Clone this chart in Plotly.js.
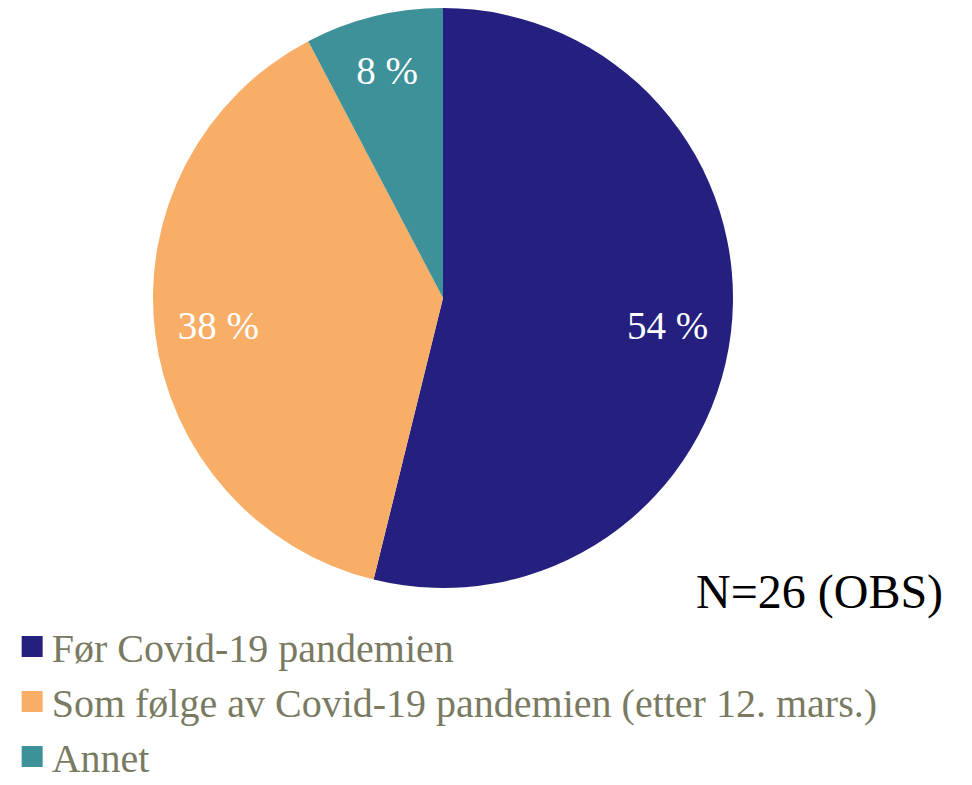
<!DOCTYPE html>
<html>
<head>
<meta charset="utf-8">
<script src="https://cdn.plot.ly/plotly-3.0.1.min.js"></script>
<style>html,body{margin:0;padding:0;background:#fff;}#chart{width:972px;height:785px;}</style>
</head>
<body>
<div id="chart"></div>
<script>
const categories = ["Før Covid-19 pandemien", "Som følge av Covid-19 pandemien (etter 12. mars.)", "Annet"];
const counts = [14, 10, 2];
const sliceColors = ["#25207f", "#f9ae68", "#3e9198"];
const noteText = "N=26 (OBS)";

const total = counts.reduce((a, b) => a + b, 0);
const labelsText = counts.map(v => Math.round(v / total * 100) + " %");

const W = 972, H = 785;
const cx = 443, cy = 298, r = 290;
const holeFrac = 0.56;
const serif = "Liberation Serif";

function dom(rad) {
  return {x: [(cx - rad) / W, (cx + rad) / W], y: [(H - cy - rad) / H, (H - cy + rad) / H]};
}

// inner filler pie (same data) so the outer ring's labels sit at the reference radius
const innerTrace = {
  type: "pie", labels: categories, values: counts, textinfo: "none",
  marker: {colors: sliceColors, line: {width: 0}},
  sort: false, direction: "clockwise", rotation: 0, showlegend: false, hoverinfo: "skip",
  domain: dom(r * holeFrac + 4)
};

const trace = {
  type: "pie", labels: categories, values: counts, text: labelsText,
  texttemplate: "%{text}", textinfo: "text", textposition: "inside",
  insidetextorientation: "horizontal",
  textfont: {family: serif, size: 39, color: "#ffffff"},
  marker: {colors: sliceColors, line: {width: 0}},
  sort: false, direction: "clockwise", rotation: 0, hole: holeFrac,
  hoverinfo: "label+percent", domain: dom(r)
};

const layout = {
  width: W, height: H,
  margin: {l: 0, r: 0, t: 0, b: 0, autoexpand: false},
  paper_bgcolor: "#ffffff", showlegend: true,
  legend: {
    x: 0.012, y: (H - 614) / H, xanchor: "left", yanchor: "top",
    font: {family: serif, size: 40, color: "#7a7a62"},
    bgcolor: "rgba(0,0,0,0)", itemclick: false
  },
  annotations: [{
    text: noteText, xref: "paper", yref: "paper",
    x: 945 / W, y: (H - 592) / H, xanchor: "right", yanchor: "middle",
    showarrow: false, font: {family: serif, size: 48, color: "#000000"}
  }]
};

Plotly.newPlot("chart", [innerTrace, trace], layout, {displayModeBar: false, staticPlot: true}).then(function (gd) {
  gd.querySelectorAll(".legend .legendpoints path").forEach(function (p) {
    p.setAttribute("d", "M11,10.5H-10V-10.5H11Z");
  });
});
</script>
</body>
</html>
